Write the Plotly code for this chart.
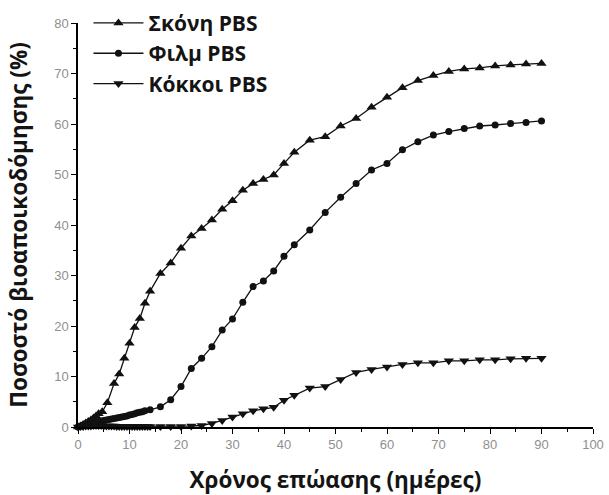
import plotly.graph_objects as go

# Incubation time (days) and biodegradation (%) for the three PBS forms
powder_days = [0, 0.5, 1, 1.5, 2, 2.5, 3, 3.5, 4, 4.7, 5.7, 7, 8, 9, 10, 11, 12, 13, 14,
               16, 18, 20, 22, 24, 26, 28, 30, 32, 34, 36, 38, 40, 42,
               45, 48, 51, 54, 57, 60, 63, 66, 69, 72, 75, 78, 81, 84, 87, 90]
powder_pct = [0, 0.2, 0.5, 0.8, 1.1, 1.4, 1.8, 2.2, 2.6, 3.0, 4.8, 8.6, 10.5, 13.6, 16.6, 19.7, 21.5, 24.5, 26.9,
              30.4, 32.5, 35.4, 37.8, 39.3, 41.0, 43.1, 44.8, 46.9, 48.2, 49.0, 49.9, 52.2, 54.4,
              56.8, 57.5, 59.6, 61.1, 63.3, 65.3, 67.2, 68.6, 69.6, 70.4, 70.9, 71.1, 71.5, 71.7, 71.9, 72.0]

film_days = [0, 0.5, 1, 1.5, 2, 2.5, 3, 3.5, 4, 4.5, 5, 5.5, 6, 6.5, 7, 7.5, 8, 8.5, 9, 9.5,
             10, 10.5, 11, 11.5, 12, 12.5, 13,
             14, 16, 18, 20, 22, 24, 26, 28, 30, 32, 34, 36, 38, 40, 42,
             45, 48, 51, 54, 57, 60, 63, 66, 69, 72, 75, 78, 81, 84, 87, 90]
film_pct = [0, 0.2, 0.4, 0.5, 0.7, 0.8, 0.9, 1.0, 1.1, 1.2, 1.3, 1.4, 1.5, 1.6, 1.7, 1.8, 1.9, 2.0, 2.1, 2.2,
            2.4, 2.5, 2.6, 2.8, 2.9, 3.0, 3.2,
            3.4, 4.0, 5.4, 8.0, 11.6, 13.6, 15.9, 19.2, 21.4, 24.7, 27.8, 28.9, 30.9, 33.8, 36.1,
            39.0, 42.5, 45.5, 48.2, 50.9, 52.2, 54.9, 56.5, 57.8, 58.5, 59.1, 59.6, 59.8, 60.1, 60.3, 60.6]

granule_days = [0, 0.5, 1, 1.5, 2, 2.5, 3, 3.5, 4, 4.5, 5, 5.5, 6, 6.5, 7, 7.5, 8, 8.5, 9, 9.5,
                10, 10.5, 11, 11.5, 12, 12.5, 13, 13.5, 14,
                16, 18, 20, 22, 24, 26, 28, 30, 32, 34, 36, 38, 40, 42,
                45, 48, 51, 54, 57, 60, 63, 66, 69, 72, 75, 78, 81, 84, 87, 90]
granule_pct = [0, 0.1, 0.1, 0.2, 0.2, 0.2, 0.3, 0.3, 0.3, 0.3, 0.2, 0.2, 0.2, 0.2, 0.2, 0.1, 0.1, 0.1, 0.1, 0.1,
               0.1, 0.1, 0.1, 0.1, 0.1, 0.1, 0.1, 0.1, 0.1,
               0.1, 0.1, 0.1, 0.2, 0.3, 0.7, 1.3, 2.0, 2.6, 3.2, 3.6, 3.9, 5.3, 6.3,
               7.7, 8.0, 9.4, 10.8, 11.4, 11.9, 12.4, 12.7, 12.7, 13.1, 13.1, 13.3, 13.3, 13.5, 13.6, 13.6]

series = [
    ("Σκόνη PBS", powder_days, powder_pct, "triangle-up", 9),
    ("Φιλμ PBS", film_days, film_pct, "circle", 7),
    ("Κόκκοι PBS", granule_days, granule_pct, "triangle-down", 9),
]

fig = go.Figure()
for i, (name, xs, ys, sym, size) in enumerate(series):
    fig.add_trace(go.Scatter(
        x=xs, y=ys, name=name, mode="lines+markers",
        line=dict(color="#111111", width=1.3),
        marker=dict(symbol=sym, size=size, color="#111111"),
        legendgroup=f"g{i}", cliponaxis=False,
    ))

title_font = dict(family="Open Sans", size=22.5, color="#141414", weight="bold")
tick_font = dict(family="Liberation Sans", size=13, color="#8f8f8f")

fig.update_layout(
    width=609, height=495,
    margin=dict(l=78, r=16, t=23, b=68, autoexpand=False),
    paper_bgcolor="white", plot_bgcolor="white",
    showlegend=True,
    legend=dict(
        x=0.0203, y=1.05, xanchor="left", yanchor="top",
        bgcolor="rgba(0,0,0,0)", borderwidth=0,
        font=dict(family="Open Sans", size=21, color="#141414", weight="bold"),
        tracegroupgap=0, itemwidth=50,
    ),
    xaxis=dict(
        range=[0, 100], tickmode="linear", tick0=0, dtick=10,
        showgrid=False, zeroline=False,
        showline=True, linecolor="black", linewidth=1.5,
        ticks="outside", ticklen=5, tickwidth=1.2, tickcolor="black",
        minor=dict(ticks="outside", ticklen=3, tickwidth=1, tickcolor="black", dtick=5, showgrid=False),
        tickfont=tick_font,
        title=dict(text="Χρόνος επώασης (ημέρες)", font=title_font, standoff=23),
        automargin=False,
    ),
    yaxis=dict(
        range=[0, 80], tickmode="linear", tick0=0, dtick=10,
        showgrid=False, zeroline=False,
        showline=True, linecolor="black", linewidth=1.5,
        ticks="outside", ticklen=5, tickwidth=1.2, tickcolor="black",
        minor=dict(ticks="outside", ticklen=3, tickwidth=1, tickcolor="black", dtick=5, showgrid=False),
        tickfont=tick_font,
        title=dict(text="Ποσοστό βιοαποικοδόμησης (%)", font=title_font, standoff=20),
        automargin=False,
    ),
)

fig.write_html("out.html")
